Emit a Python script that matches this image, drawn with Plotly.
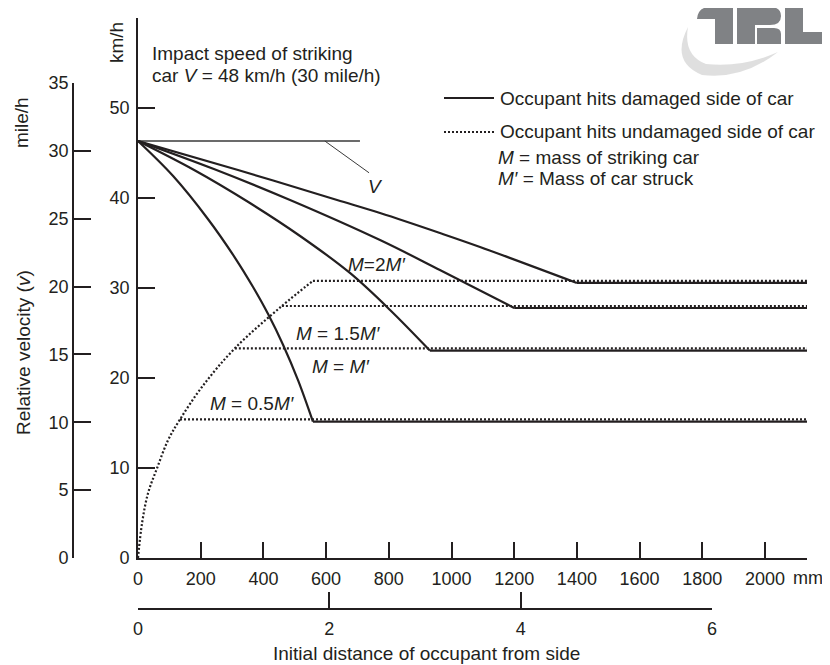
import plotly.graph_objects as go

W, H = 830, 665
OFF = 8  # page body margin that the browser adds around the figure
FONT = "Liberation Sans, Arial, sans-serif"
INK = "#231f20"

# ---------------- data ----------------
mm_ticks = [0, 200, 400, 600, 800, 1000, 1200, 1400, 1600, 1800, 2000]
kmh_ticks = [0, 10, 20, 30, 40, 50, 60]
kmh_ticktext = ["0", "10", "20", "30", "40", "50", ""]
mph_ticks = [0, 5, 10, 15, 20, 25, 30, 35]
ft_ticks = [0, 2, 4, 6]

x_end = 2134          # right end of the plotted distance range (mm)
impact_v = 46.33      # starting relative velocity as drawn (km/h)
v_line_x = [0, 708]

# occupant hits damaged side (solid): curved part up to the kink
dam_2_x = [0, 319, 635, 772, 963, 1091, 1400]
dam_2_y = [46.33, 43.11, 39.78, 38.33, 36.11, 34.56, 30.56]
dam_15_x = [0, 242, 485, 772, 963, 1200]
dam_15_y = [46.33, 43.22, 39.78, 35.33, 32.0, 27.78]
dam_1_x = [0, 179, 357, 517, 676, 804, 931]
dam_1_y = [46.33, 43.11, 39.44, 35.78, 31.67, 27.56, 23.05]
dam_05_x = [0, 112, 223, 310, 367, 415, 463, 511, 558]
dam_05_y = [46.33, 42.44, 37.67, 33.33, 30.11, 27.11, 23.67, 19.7, 15.15]

# occupant hits undamaged side (dotted): common rising curve
und_x = [0, 13, 32, 61, 96, 134, 204, 309, 459, 558]
und_y = [0, 3.9, 7.2, 10.0, 13.1, 15.4, 19.0, 23.3, 28.0, 30.8]
# branch points where each dotted level leaves the curve
und_branch_x = [558, 459, 309, 134]
und_branch_y = [30.8, 28.0, 23.3, 15.4]

damaged = [(dam_2_x, dam_2_y), (dam_15_x, dam_15_y), (dam_1_x, dam_1_y), (dam_05_x, dam_05_y)]


def fx(x):
    return (x - OFF) / W


def fy(y):
    return 1 - (y - OFF) / H


def px(x, y):
    """page pixel -> paper coords"""
    return fx(x), fy(y)


fig = go.Figure()

SOLID = dict(color=INK, width=2.2)
DOT = dict(color=INK, width=2.2, dash="2px,2px")

# reference line for V
fig.add_trace(go.Scatter(x=v_line_x, y=[impact_v, impact_v], mode="lines",
                         line=dict(color="#3a3a3a", width=1.5), hoverinfo="skip"))
fig.add_trace(go.Scatter(x=[596, 737], y=[impact_v, 42.8], mode="lines",
                         line=dict(color="#3a3a3a", width=1), hoverinfo="skip"))

for xs, ys in damaged:
    fig.add_trace(go.Scatter(x=xs, y=ys, mode="lines", line=dict(shape="spline", smoothing=1, **SOLID),
                             hoverinfo="skip"))
    fig.add_trace(go.Scatter(x=[xs[-1], x_end], y=[ys[-1], ys[-1]], mode="lines", line=SOLID,
                             hoverinfo="skip"))

fig.add_trace(go.Scatter(x=und_x, y=und_y, mode="lines", line=dict(shape="spline", smoothing=1, **DOT),
                         hoverinfo="skip"))
for bx, by in zip(und_branch_x, und_branch_y):
    fig.add_trace(go.Scatter(x=[bx, x_end], y=[by, by], mode="lines", line=DOT, hoverinfo="skip"))

# dummy traces so the secondary axes exist
fig.add_trace(go.Scatter(x=[0], y=[0], xaxis="x", yaxis="y2", mode="markers",
                         marker=dict(opacity=0), hoverinfo="skip"))
fig.add_trace(go.Scatter(x=[0], y=[0], xaxis="x2", yaxis="y", mode="markers",
                         marker=dict(opacity=0), hoverinfo="skip"))

axis_common = dict(showgrid=False, zeroline=False, showline=True, linecolor=INK, linewidth=1.6,
                   ticks="inside", tickcolor=INK, tickwidth=1.6,
                   tickfont=dict(family=FONT, size=18, color=INK), automargin=False, fixedrange=True)

fig.update_layout(
    width=W, height=H, margin=dict(l=0, r=0, t=0, b=0),
    paper_bgcolor="white", plot_bgcolor="rgba(0,0,0,0)", showlegend=False,
    xaxis=dict(domain=[fx(138), fx(807)], range=[0, x_end], anchor="y",
               tickvals=mm_ticks, ticklen=16, ticklabelstandoff=4, **axis_common),
    yaxis=dict(domain=[fy(558), fy(18)], range=[0, 60], anchor="x",
               tickvals=kmh_ticks, ticktext=kmh_ticktext, ticklen=17, ticklabelstandoff=3, **axis_common),
    yaxis2=dict(domain=[fy(558), fy(83)], range=[0, 35], anchor="free",
                position=fx(73), side="left", tickvals=mph_ticks, ticklen=17, **axis_common),
    xaxis2=dict(domain=[fx(138), fx(712)], range=[0, 6], anchor="free",
                position=fy(609), side="bottom", tickvals=ft_ticks, ticklen=16, ticklabelstandoff=4,
                **axis_common),
)

ann = []


def text(x, y, t, xanchor="center", angle=0, size=19, ref="paper"):
    if ref == "paper":
        x, y = px(x, y)
        xr, yr = "paper", "paper"
    else:
        xr, yr = "x", "y"
    ann.append(dict(x=x, y=y, xref=xr, yref=yr, text=t, showarrow=False, xanchor=xanchor,
                    yanchor="middle", textangle=angle, font=dict(family=FONT, size=size, color=INK)))


text(117, 43, "km/h", angle=-90)
text(22, 123, "mile/h", angle=-90)
text(23, 353, "Relative velocity (<i>v</i>)", angle=-90)
text(150, 53, "Impact speed of striking", xanchor="left")
text(150, 75, "car <i>V</i> = 48 km/h (30 mile/h)", xanchor="left")
text(498, 98, "Occupant hits damaged side of car", xanchor="left")
text(498, 132, "Occupant hits undamaged side of car", xanchor="left")
text(496, 157, "<i>M</i> = mass of striking car", xanchor="left")
text(496, 178, "<i>M′</i> = Mass of car struck", xanchor="left")
text(375, 186, "<i>V</i>")
text(426, 653, "Initial distance of occupant from side")
text(808, 578, "mm", size=18)

# curve labels (data coordinates)
text(762, 32.6, "<i>M</i>=2<i>M′</i>", ref="x")
text(638, 25.0, "<i>M</i> = 1.5<i>M′</i>", ref="x")
text(648, 21.3, "<i>M</i> = <i>M′</i>", ref="x")
text(364, 17.2, "<i>M</i> = 0.5<i>M′</i>", ref="x")
for yv, t in [(32.1, "<i>M</i> = 2<i>M′</i>"), (25.0, "<i>M</i> = 1.5<i>M′</i>"),
              (21.7, "<i>M</i> = <i>M′</i>"), (13.4, "<i>M</i> = 0.5<i>M′</i>")]:
    text(2150, yv, t, xanchor="right", ref="x")

fig.update_layout(annotations=ann)

# legend samples
shapes = []
x0, y0 = px(444, 98)
x1, _ = px(494, 98)
shapes.append(dict(type="line", xref="paper", yref="paper", x0=x0, x1=x1, y0=y0, y1=y0,
                   line=dict(color=INK, width=2)))
x0, y0 = px(444, 132)
shapes.append(dict(type="line", xref="paper", yref="paper", x0=x0, x1=x1, y0=y0, y1=y0,
                   line=dict(color=INK, width=2, dash="2px,2px")))


def path(cmds):
    out = []
    for c in cmds:
        if isinstance(c, str):
            out.append(c)
        else:
            pts = []
            for i in range(0, len(c), 2):
                a, b = px(c[i], c[i + 1])
                pts.append(f"{a:.5f},{b:.5f}")
            out.append(" ".join(pts))
    return " ".join(out)


LOGO = "#808285"
logo_paths = [
    ["M", (697, 19), "Q", (698, 7, 710, 7), "L", (733, 7), "L", (733, 44), "L", (715, 44), "L", (715, 19), "Z"],
    ["M", (737, 7), "L", (770, 7), "Q", (781, 7, 781, 16), "Q", (781, 25, 770, 25), "L", (755, 25),
     "L", (755, 44), "L", (737, 44), "Z"],
    ["M", (757, 28), "L", (774, 28), "Q", (781, 28, 781, 34), "L", (781, 44), "L", (757, 44), "Z"],
    ["M", (785, 7), "L", (803, 7), "L", (803, 32), "L", (832, 32), "L", (832, 37), "Q", (831, 44, 822, 44),
     "L", (785, 44), "Z"],
]
for p in logo_paths:
    shapes.append(dict(type="path", xref="paper", yref="paper", path=path(p),
                       fillcolor=LOGO, line=dict(width=0)))
swoosh = ["M", (688, 27), "Q", (670, 62, 702, 75), "Q", (742, 80, 778, 52),
          "Q", (742, 68, 706, 64), "Q", (683, 55, 688, 27), "Z"]
shapes.append(dict(type="path", xref="paper", yref="paper", path=path(swoosh),
                   fillcolor="rgba(150,150,150,0.3)", line=dict(width=0), layer="below"))

fig.update_layout(shapes=shapes)

fig.write_html("out.html")
